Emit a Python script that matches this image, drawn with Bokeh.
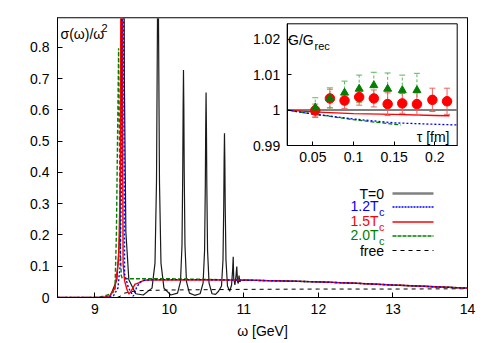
import numpy as np
from bokeh.plotting import figure
from bokeh.models import Range1d, LinearAxis, FixedTicker, NumeralTickFormatter, Label, Span
from bokeh.embed import file_html
from bokeh.resources import INLINE

FONT = "Liberation Sans"

# ---------------- main panel data: sigma(omega)/omega^2 ----------------
omega_T0 = [8.5, 9.2, 9.297, 9.337, 9.357, 9.367, 9.372, 9.377, 9.382, 9.387, 9.397, 9.417, 9.457,
            9.55, 9.65, 9.768, 9.808, 9.828, 9.841, 9.845, 9.848, 9.851, 9.855, 9.868, 9.888, 9.928,
            10.02, 10.11, 10.15, 10.17, 10.18, 10.185, 10.19, 10.195, 10.20, 10.21, 10.23, 10.27,
            10.34, 10.413, 10.453, 10.473, 10.483, 10.488, 10.493, 10.498, 10.503, 10.513, 10.533, 10.573,
            10.62, 10.66, 10.70, 10.72, 10.73, 10.735, 10.74, 10.745, 10.75, 10.76, 10.78,
            10.81, 10.835, 10.85, 10.857, 10.864, 10.88, 10.895, 10.905, 10.915, 10.925, 10.935, 10.945,
            10.96, 11.0, 11.5, 12.0, 12.5, 13.0, 13.5, 14.0]
rho_T0 = [0, 0, 0.057, 0.21, 0.69, 1.65, 2.5, 3.0, 2.5, 1.65, 0.69, 0.21, 0.057,
          0.012, 0.008, 0.03, 0.11, 0.37, 0.88, 1.33, 1.6, 1.33, 0.88, 0.37, 0.11, 0.03,
          0.008, 0.014, 0.051, 0.167, 0.40, 0.60, 0.727, 0.60, 0.40, 0.167, 0.051, 0.014,
          0.007, 0.012, 0.046, 0.15, 0.36, 0.54, 0.655, 0.54, 0.36, 0.15, 0.046, 0.012,
          0.01, 0.02, 0.037, 0.12, 0.29, 0.435, 0.525, 0.435, 0.29, 0.12, 0.037,
          0.02, 0.04, 0.09, 0.13, 0.06, 0.04, 0.07, 0.099, 0.05, 0.045, 0.07, 0.05,
          0.055, 0.0555, 0.053, 0.050, 0.0455, 0.040, 0.035, 0.030]

omega_12 = [8.5, 9.15, 9.25, 9.31, 9.34, 9.36, 9.37, 9.377, 9.385, 9.40, 9.45, 9.50, 9.515,
            9.54, 9.56, 9.61, 9.66, 9.8, 10.5, 11.0, 11.5, 12.0, 12.5, 13.0, 13.5, 14.0]
rho_12 = [0, 0, 0.005, 0.03, 0.1, 0.4, 1.2, 2.5, 1.0, 0.075, 0.032, 0.011, 0.004,
          0.016, 0.032, 0.05, 0.055, 0.057, 0.057, 0.0555, 0.053, 0.050, 0.0455, 0.040, 0.035, 0.030]

omega_15 = [8.5, 9.10, 9.20, 9.27, 9.32, 9.345, 9.36, 9.375, 9.38, 9.40, 9.43, 9.457, 9.49,
            9.54, 9.61, 9.64, 9.70, 10.5, 11.0, 11.5, 12.0, 12.5, 13.0, 13.5, 14.0]
rho_15 = [0, 0, 0.005, 0.03, 0.12, 0.4, 2.5, 0.4, 0.107, 0.053, 0.027, 0.011, 0.021,
          0.043, 0.048, 0.053, 0.056, 0.0565, 0.0555, 0.053, 0.050, 0.0455, 0.040, 0.035, 0.030]

omega_20 = [8.5, 9.0, 9.1, 9.2, 9.27, 9.29, 9.305, 9.32, 9.335, 9.345, 9.355, 9.37, 9.5,
            10.0, 10.5, 11.0, 11.5, 12.0, 12.5, 13.0, 13.5, 14.0]
rho_20 = [0, 0, 0.003, 0.01, 0.021, 0.2, 0.5, 0.797, 0.4, 0.15, 0.07, 0.06, 0.06,
          0.06, 0.058, 0.0555, 0.053, 0.050, 0.0455, 0.040, 0.035, 0.030]

omega_free = [9.3, 9.35, 9.4, 9.5, 9.6, 10.0, 11.0, 12.0, 13.0, 14.0]
rho_free = [0, 0.005, 0.014, 0.019, 0.022, 0.024, 0.026, 0.027, 0.027, 0.028]

x_ticks = [9, 10, 11, 12, 13, 14]
y_ticks = [0, 0.1, 0.2, 0.3, 0.4, 0.5, 0.6, 0.7, 0.8]

# ---------------- inset data: G/G_rec vs tau ----------------
tau_15 = [0.053, 0.071, 0.089, 0.107, 0.125, 0.142, 0.160, 0.178, 0.197, 0.215]
ratio_15 = [0.9999, 1.0033, 1.0027, 1.0037, 1.0033, 1.0017, 1.0019, 1.0017, 1.0029, 1.0025]
err_15 = [0.0018, 0.0026, 0.0022, 0.0023, 0.0024, 0.0032, 0.0028, 0.0032, 0.0033, 0.0037]

tau_20 = [0.053, 0.071, 0.089, 0.107, 0.125, 0.142, 0.160, 0.178]
ratio_20 = [1.0007, 1.0033, 1.0049, 1.0060, 1.0070, 1.0060, 1.0056, 1.0056]
err_20 = [0.0028, 0.0030, 0.0033, 0.0039, 0.0037, 0.0045, 0.0043, 0.0048]

tau_mod_T0 = [0.0185, 0.2275]
ratio_mod_T0 = [1.0, 1.0]
tau_mod_12 = [0.0185, 0.05, 0.1, 0.15, 0.2, 0.2275]
ratio_mod_12 = [1.0, 0.9989, 0.9975, 0.9964, 0.9960, 0.9958]
tau_mod_15 = [0.0185, 0.05, 0.1, 0.15, 0.2, 0.218]
ratio_mod_15 = [1.0, 0.9995, 0.9990, 0.9988, 0.9985, 0.9984]
tau_mod_20 = [0.0185, 0.05, 0.1, 0.158]
ratio_mod_20 = [1.0, 0.9989, 0.9973, 0.9958]

tau_ticks = [0.05, 0.1, 0.15, 0.2]
g_ticks = [0.99, 1.0, 1.01, 1.02]

# ---------------- layout (page pixels; figure sits at page origin) ----------------
W, H = 490, 342
FL, FR, FT, FB = 57, 467, 17, 297
X0, X1, Y0, Y1 = 8.5, 14.0, 0.0, 0.895


def px2x(px):
    return X0 + (px - FL) * (X1 - X0) / (FR - FL)


def px2y(py):
    return Y0 + (FB - py) * (Y1 - Y0) / (FB - FT)


IL, IR, IT, IB = 286.7, 456.7, 23.3, 145.0
TAU_LIM = (0.0185, 0.2275)
G_LIM = (0.99, 1.0244)
per_t = (TAU_LIM[1] - TAU_LIM[0]) / (IR - IL)
per_g = (G_LIM[1] - G_LIM[0]) / (IB - IT)
tau_range = Range1d(TAU_LIM[0] - (IL - FL) * per_t, TAU_LIM[1] + (FR - IR) * per_t)
g_range = Range1d(G_LIM[0] - (FB - IB) * per_g, G_LIM[1] + (IT - FT) * per_g)

p = figure(width=W, height=H, x_range=Range1d(X0, X1), y_range=Range1d(Y0, Y1),
           output_backend="svg", toolbar_location=None,
           min_border_left=FL, min_border_right=W - FR,
           min_border_top=FT, min_border_bottom=H - FB)
p.extra_x_ranges = {"tau": tau_range}
p.extra_y_ranges = {"g": g_range}
p.xgrid.visible = False
p.ygrid.visible = False
p.outline_line_color = "black"
p.outline_line_width = 1
p.background_fill_color = "white"
p.border_fill_color = "white"


def style_axis(ax, size="14px"):
    ax.major_tick_in = 5
    ax.major_tick_out = 0
    ax.minor_tick_in = 0
    ax.minor_tick_out = 0
    ax.axis_line_color = "black"
    ax.major_tick_line_color = "black"
    ax.major_label_text_font = FONT
    ax.major_label_text_font_size = size
    ax.major_label_text_color = "black"
    ax.axis_label_text_font = FONT
    ax.axis_label_text_font_style = "normal"
    ax.axis_label_text_font_size = size
    ax.axis_label_text_color = "black"


xa = p.xaxis[0]
style_axis(xa)
xa.ticker = FixedTicker(ticks=x_ticks)
xa.axis_label = "ω [GeV]"
xa.major_label_standoff = 6
xa.axis_label_standoff = 6

ya = p.yaxis[0]
style_axis(ya)
ya.ticker = FixedTicker(ticks=y_ticks)
ya.formatter = NumeralTickFormatter(format="0.[0]")
ya.major_label_standoff = 8

p.add_layout(Span(location=Y1, dimension="width", line_color="#808080", line_width=2))

# main curves
p.line(omega_T0, rho_T0, line_color="#1a1a1a", line_width=1.2)
p.line(omega_free, rho_free, line_color="black", line_width=1, line_dash="4 4")
p.line(omega_20, rho_20, line_color="#008000", line_width=1.4, line_dash="4 2")
p.line(omega_15, rho_15, line_color="#ff0000", line_width=1.4)
p.line(omega_12, rho_12, line_color="#0000ff", line_width=1.4, line_dash="2 2")

# ---------------- inset ----------------
kw = dict(x_range_name="tau", y_range_name="g")
p.quad(left=[TAU_LIM[0]], right=[TAU_LIM[1]], bottom=[G_LIM[0]], top=[G_LIM[1]],
       fill_alpha=0, line_color="black", line_width=1, **kw)

iax = LinearAxis(fixed_location=G_LIM[0], bounds=TAU_LIM, **kw)
style_axis(iax)
iax.major_tick_in = 4
iax.ticker = FixedTicker(ticks=tau_ticks)
iax.formatter = NumeralTickFormatter(format="0.[00]")
iax.major_label_standoff = 6
p.add_layout(iax, "below")

iay = LinearAxis(fixed_location=TAU_LIM[0], bounds=G_LIM, **kw)
style_axis(iay)
iay.major_tick_in = 4
iay.ticker = FixedTicker(ticks=g_ticks)
iay.formatter = NumeralTickFormatter(format="0.[00]")
iay.major_label_standoff = 7
p.add_layout(iay, "left")

p.line(tau_mod_T0, ratio_mod_T0, line_color="#808080", line_width=2, **kw)
p.line(tau_mod_15, ratio_mod_15, line_color="#ff0000", line_width=1.4, **kw)
p.line(tau_mod_20, ratio_mod_20, line_color="#008000", line_width=1.3, line_dash="4 2", **kw)
p.line(tau_mod_12, ratio_mod_12, line_color="#0000ff", line_width=1.3, line_dash="2 2", **kw)

up20 = list(np.array(ratio_20) + np.array(err_20))
lo20 = list(np.array(ratio_20) - np.array(err_20))
up15 = list(np.array(ratio_15) + np.array(err_15))
lo15 = list(np.array(ratio_15) - np.array(err_15))

p.segment(x0=tau_20, y0=lo20, x1=tau_20, y1=up20, line_color="#5cb85c", line_width=1,
          line_dash="3 2", **kw)
p.dash(x=tau_20 + tau_20, y=up20 + lo20, size=6, line_color="#5cb85c", line_width=1, **kw)
p.segment(x0=tau_15, y0=lo15, x1=tau_15, y1=up15, line_color="#f06060", line_width=1, **kw)
p.dash(x=tau_15 + tau_15, y=up15 + lo15, size=6, line_color="#f06060", line_width=1, **kw)

p.scatter(tau_15, ratio_15, marker="circle", size=9.5, fill_color="#ff0000", line_color="#ff0000", **kw)
p.scatter(tau_20, ratio_20, marker="triangle", size=8, fill_color="#008000", line_color="#008000", **kw)


# ---------------- texts ----------------
def txt(px, py, s, color="black", size="14px", align="left"):
    p.add_layout(Label(x=px2x(px), y=px2y(py), text=s, text_color=color, text_font=FONT,
                       text_font_size=size, text_align=align, text_baseline="middle"))


txt(60, 33, "σ(ω)/ω")
txt(101, 27, "2", size="11px")
txt(287.5, 39.5, "G/G")
txt(314, 45, "rec", size="11px")
txt(449, 136, "τ [fm]", align="right")

legend_rows = [
    ("T=0", None, "black", "#808080", None, 2.5, 193),
    ("1.2T", "c", "#0000ff", "#0000ff", "2 1", 1.3, 206.5),
    ("1.5T", "c", "#ff0000", "#ff0000", None, 1.3, 221.5),
    ("2.0T", "c", "#008000", "#008000", "4 1", 1.3, 235.5),
    ("free", None, "black", "black", "4 4", 1.0, 250),
]
for main, sub, tcol, lcol, dash, lw, yy in legend_rows:
    if sub:
        txt(378, yy - 1, main, color=tcol, align="right")
        txt(378.5, yy + 5, sub, color=tcol, size="11px")
    else:
        txt(383.5, yy, main, color=tcol, align="right")
    kwl = {} if dash is None else {"line_dash": dash}
    p.line([px2x(392), px2x(433)], [px2y(yy), px2y(yy)], line_color=lcol, line_width=lw, **kwl)

open("out.html", "w").write(file_html(p, INLINE))
